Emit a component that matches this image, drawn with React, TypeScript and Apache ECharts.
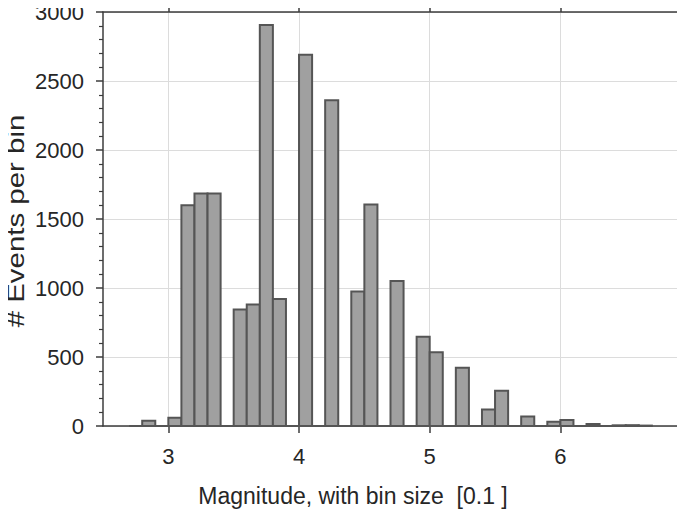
import React, { useEffect, useRef } from "react";
import * as echarts from "echarts";

const binStarts = [2.7, 2.8, 2.9, 3.0, 3.1, 3.2, 3.3, 3.4, 3.5, 3.6, 3.7, 3.8, 3.9, 4.0, 4.1, 4.2, 4.3, 4.4, 4.5, 4.6, 4.7, 4.8, 4.9, 5.0, 5.1, 5.2, 5.3, 5.4, 5.5, 5.6, 5.7, 5.8, 5.9, 6.0, 6.1, 6.2, 6.3, 6.4, 6.5, 6.6];
const counts = [0, 38, 0, 60, 1600, 1685, 1685, 0, 845, 880, 2905, 920, 0, 2690, 0, 2360, 0, 975, 1605, 0, 1050, 0, 647, 535, 0, 423, 0, 120, 256, 0, 68, 0, 31, 43, 0, 15, 0, 5, 6, 3];
const binSize = 0.1;
const xTicks = [3, 4, 5, 6];

const xLabel = "Magnitude, with bin size  [0.1 ]";
const yLabel = "# Events per bin";

export default function App() {
  const ref = useRef<HTMLDivElement>(null);
  useEffect(() => {
    if (!ref.current) return;
    const chart = echarts.init(ref.current, null, { renderer: "svg" });
    const data = binStarts.map((s, i) => [s, +(s + binSize).toFixed(2), counts[i]]);
    const axisColor = "#3c3c3c";
    const textColor = "#262626";
    const font = "Liberation Sans, Arial, sans-serif";
    const xCommon = {
      type: "value",
      min: 2.5,
      max: 6.9,
      axisLine: { show: true, onZero: false, lineStyle: { color: axisColor, width: 1.5 } },
      axisTick: { show: true, length: 7, lineStyle: { color: axisColor, width: 1.5 }, customValues: xTicks },
      splitLine: { show: false },
    };
    const yCommon = {
      type: "value",
      min: 0,
      max: 3000,
      interval: 500,
      axisLine: { show: true, lineStyle: { color: axisColor, width: 1.5 } },
      axisTick: { show: true, length: 7, lineStyle: { color: axisColor, width: 1.5 } },
      minorTick: { show: true, splitNumber: 5, length: 4, lineStyle: { color: axisColor, width: 1.2 } },
      splitLine: { show: false },
    };
    chart.setOption({
      animation: false,
      grid: { left: 103, top: 12, right: 7, bottom: 87, containLabel: false },
      xAxis: [
        {
          ...xCommon,
          position: "bottom",
          axisLabel: { customValues: xTicks, fontSize: 22, color: textColor, fontFamily: font, margin: 19 },
          splitLine: { show: true, lineStyle: { color: "#dcdcdc", width: 1 } },
        },
        {
          ...xCommon,
          position: "top",
          axisLabel: { show: false },
        },
      ],
      yAxis: [
        {
          ...yCommon,
          position: "left",
          axisLabel: { fontSize: 22, color: textColor, fontFamily: font, margin: 19, formatter: (v: number) => String(v) },
          splitLine: { show: true, lineStyle: { color: "#dcdcdc", width: 1 } },
        },
        {
          ...yCommon,
          position: "right",
          axisLabel: { show: false },
        },
      ],
      graphic: [
        {
          type: "text",
          x: 353,
          y: 496,
          style: { text: xLabel, fontSize: 23, fill: textColor, fontFamily: font, align: "center", verticalAlign: "middle" },
        },
        {
          type: "text",
          x: 16,
          y: 221,
          rotation: Math.PI / 2,
          scaleX: 1.28,
          style: { text: yLabel, fontSize: 23, fill: textColor, fontFamily: font, align: "center", verticalAlign: "middle" },
        },
      ],
      series: [
        {
          type: "custom",
          xAxisIndex: 0,
          yAxisIndex: 0,
          data,
          renderItem: (params: any, api: any) => {
            const x0 = api.value(0);
            const x1 = api.value(1);
            const y = api.value(2);
            const p0 = api.coord([x0, y]);
            const p1 = api.coord([x1, 0]);
            return {
              type: "rect",
              shape: { x: p0[0], y: p0[1], width: p1[0] - p0[0], height: p1[1] - p0[1] },
              style: { fill: "#a0a0a0", stroke: "#555555", lineWidth: 2 },
            };
          },
        },
      ],
    });
    return () => chart.dispose();
  }, []);
  return <div ref={ref} style={{ width: 685, height: 513, marginLeft: -8, marginTop: -8 }} />;
}
